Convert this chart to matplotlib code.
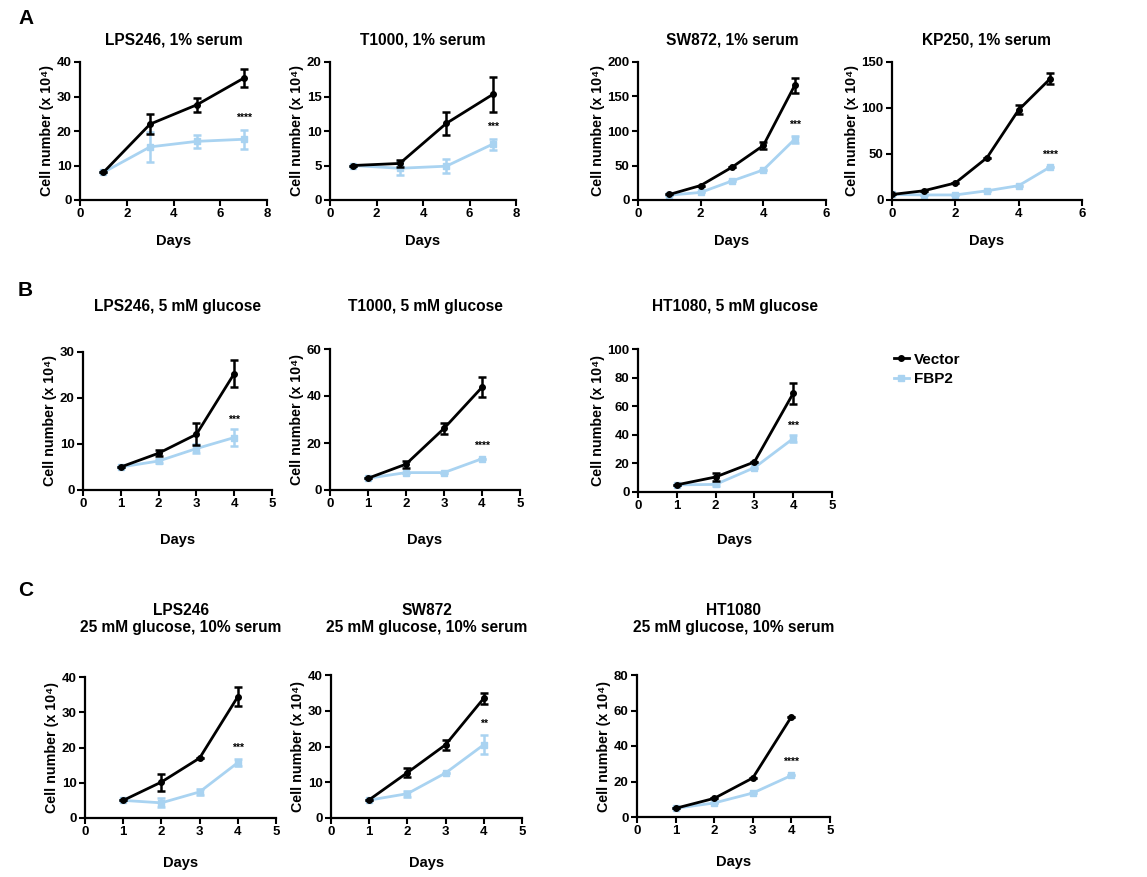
import matplotlib
matplotlib.use("Agg")
import matplotlib.pyplot as plt
from matplotlib.lines import Line2D

plt.rcParams['font.family'] = ['Liberation Sans', 'DejaVu Sans']
plt.rcParams['font.weight'] = 'bold'

W, H = 1147, 877
BLACK = 'black'
BLUE = '#a9d3f1'

# ---- data ----
titles = [
    "LPS246, 1% serum", "T1000, 1% serum", "SW872, 1% serum", "KP250, 1% serum",
    "LPS246, 5 mM glucose", "T1000, 5 mM glucose", "HT1080, 5 mM glucose",
    "LPS246\n25 mM glucose, 10% serum", "SW872\n25 mM glucose, 10% serum",
    "HT1080\n25 mM glucose, 10% serum",
]

days_a12 = [1, 3, 5, 7]
days_a3 = [1, 2, 3, 4, 5]
days_a4 = [0, 1, 2, 3, 4, 5]
days_bc = [1, 2, 3, 4]

vec_a1 = [8, 22, 27.6, 35.3]
vec_a1_err = [0, 2.9, 2.0, 2.6]
fbp_a1 = [8, 15.4, 17, 17.6]
fbp_a1_err = [0, 4.4, 1.8, 2.8]

vec_a2 = [5, 5.3, 11.1, 15.3]
vec_a2_err = [0, 0.5, 1.7, 2.5]
fbp_a2 = [5, 4.6, 4.9, 8.1]
fbp_a2_err = [0, 1.0, 1.0, 0.8]

vec_a3 = [8, 21, 47.5, 79, 166]
vec_a3_err = [0, 0, 0, 5, 11]
fbp_a3 = [7, 11, 27.6, 43.6, 88]
fbp_a3_err = [0, 0, 0, 0, 5]

vec_a4 = [6, 10, 18.5, 46, 98, 132]
vec_a4_err = [0, 0, 0, 0, 5, 6]
fbp_a4 = [6, 5.5, 5.5, 10, 15.6, 36]
fbp_a4_err = [0, 0, 0, 0, 0, 0]

vec_b1 = [5, 8, 12.1, 25.3]
vec_b1_err = [0, 0.7, 2.4, 3.0]
fbp_b1 = [5, 6.3, 9, 11.4]
fbp_b1_err = [0, 0.5, 1.0, 1.8]

vec_b2 = [5, 11, 26.2, 43.7]
vec_b2_err = [0, 1.5, 2.3, 4.2]
fbp_b2 = [5, 7.4, 7.4, 13.3]
fbp_b2_err = [0, 0, 0, 0]

vec_b3 = [5, 10.5, 21, 69]
vec_b3_err = [0, 3, 0, 7.5]
fbp_b3 = [5, 5.3, 17, 37.4]
fbp_b3_err = [0, 1, 0, 2.5]

vec_c1 = [5, 10.2, 17, 34.4]
vec_c1_err = [0, 2.4, 0, 2.7]
fbp_c1 = [5, 4.3, 7.4, 15.7]
fbp_c1_err = [0, 1.3, 0.9, 0.9]

vec_c2 = [5.1, 12.7, 20.5, 33.5]
vec_c2_err = [0, 1.2, 1.4, 1.5]
fbp_c2 = [5, 6.8, 12.6, 20.5]
fbp_c2_err = [0, 0.8, 0, 2.6]

vec_c3 = [4.9, 10.5, 22, 56.5]
vec_c3_err = [0, 0, 0, 0]
fbp_c3 = [4.9, 7.9, 13.5, 23.4]
fbp_c3_err = [0, 0, 0, 0]

stars = ["****", "***", "***", "****", "***", "****", "***", "***", "**", "****"]
star_y = [23.7, 10.6, 109, 49, 15.3, 19, 46, 19.8, 26.3, 31]

panels = [
    (days_a12, vec_a1, vec_a1_err, fbp_a1, fbp_a1_err, 8, 40),
    (days_a12, vec_a2, vec_a2_err, fbp_a2, fbp_a2_err, 8, 20),
    (days_a3, vec_a3, vec_a3_err, fbp_a3, fbp_a3_err, 6, 200),
    (days_a4, vec_a4, vec_a4_err, fbp_a4, fbp_a4_err, 6, 150),
    (days_bc, vec_b1, vec_b1_err, fbp_b1, fbp_b1_err, 5, 30),
    (days_bc, vec_b2, vec_b2_err, fbp_b2, fbp_b2_err, 5, 60),
    (days_bc, vec_b3, vec_b3_err, fbp_b3, fbp_b3_err, 5, 100),
    (days_bc, vec_c1, vec_c1_err, fbp_c1, fbp_c1_err, 5, 40),
    (days_bc, vec_c2, vec_c2_err, fbp_c2, fbp_c2_err, 5, 40),
    (days_bc, vec_c3, vec_c3_err, fbp_c3, fbp_c3_err, 5, 80),
]

xstep = {8: 2, 6: 2, 5: 1}
ystep = {40: 10, 20: 5, 200: 50, 150: 50, 30: 10, 60: 20, 100: 20, 80: 20}

# axes boxes in pixels: left, top, right, bottom
boxes = [
    (80, 62, 267, 200), (330, 62, 516, 200), (638, 62, 826, 200), (892, 62, 1082, 200),
    (83, 352, 272, 490), (330, 349, 520, 490), (638, 349, 832, 492),
    (85, 677, 276, 818), (331, 675, 522, 818), (637, 675, 830, 817),
]
# title centre heights in pixels, and the gap below the x axis for "Days"
title_y = [40, 40, 40, 40, 307, 307, 307, 619, 619, 619]
days_pad = [10, 10, 10, 10, 16, 16, 15, 13, 13, 13]


def px_rect(l, t, r, b):
    return [l / W, 1 - b / H, (r - l) / W, (b - t) / H]


fig = plt.figure(figsize=(W / 100, H / 100), dpi=100)

for i, (x, v, ve, f, fe, xmax, ymax) in enumerate(panels):
    l, t, r, b = boxes[i]
    ax = fig.add_axes(px_rect(l, t, r, b))
    ax.errorbar(x, f, yerr=fe, color=BLUE, lw=2, marker='s', ms=4,
                capsize=3, capthick=1.8, elinewidth=1.8, zorder=2)
    ax.errorbar(x, v, yerr=ve, color=BLACK, lw=2, marker='o', ms=4,
                capsize=3, capthick=1.8, elinewidth=1.8, zorder=3)
    ax.text(x[-1], star_y[i], stars[i], ha='center', va='center',
            fontsize=7.5, fontweight='bold')
    ax.set_xlim(0, xmax)
    ax.set_ylim(0, ymax)
    ax.set_xticks(range(0, xmax + 1, xstep[xmax]))
    ax.set_yticks(range(0, ymax + 1, ystep[ymax]))
    for s in ['top', 'right']:
        ax.spines[s].set_visible(False)
    for s in ['left', 'bottom']:
        ax.spines[s].set_linewidth(1.6)
    ax.tick_params(width=1.5, length=4, labelsize=9.5, pad=2)
    for lab in ax.get_xticklabels() + ax.get_yticklabels():
        lab.set_fontweight('bold')
    ax.set_xlabel("Days", fontsize=10.5, fontweight='bold', labelpad=days_pad[i])
    ax.set_ylabel("Cell number (x 10\u2074)", fontsize=10.3, fontweight='bold', labelpad=2)
    fig.text((l + r) / 2 / W, 1 - title_y[i] / H, titles[i], fontsize=11.2,
             fontweight='bold', ha='center', va='center', linespacing=1.15)

for letter, ypx in [("A", 18), ("B", 290), ("C", 590)]:
    fig.text(18 / W, 1 - ypx / H, letter, fontsize=15, fontweight='bold',
             ha='left', va='center')

handles = [
    Line2D([], [], color=BLACK, lw=2, marker='o', ms=4),
    Line2D([], [], color=BLUE, lw=2, marker='s', ms=4),
]
fig.legend(handles, ["Vector", "FBP2"], loc='upper left',
           bbox_to_anchor=(880 / W, 1 - 339 / H), frameon=False,
           handlelength=1.0, handletextpad=0.3,
           labelspacing=0.35, prop={'weight': 'bold', 'size': 11})

fig.savefig("out.png", dpi=100)
